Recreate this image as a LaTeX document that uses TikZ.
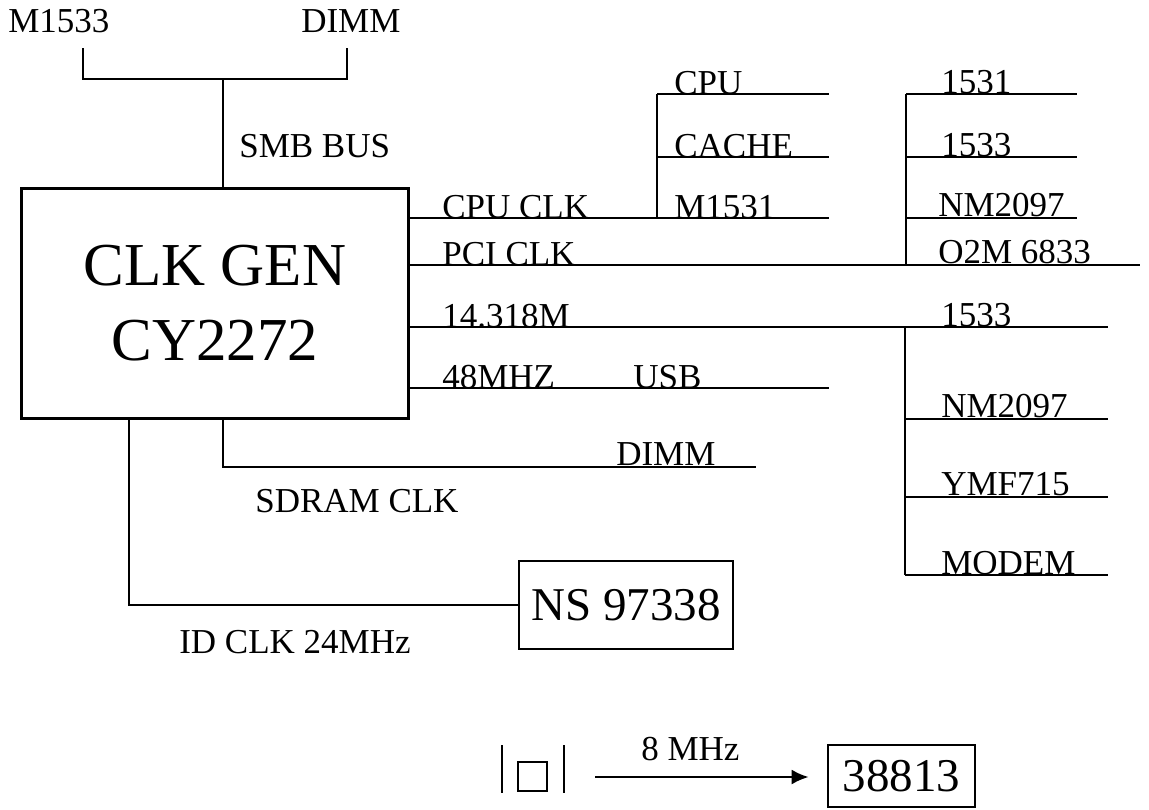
\documentclass[tikz,border=0pt]{standalone}
\usepackage{fontspec}
\setmainfont{Liberation Serif}
\usetikzlibrary{arrows.meta}
\begin{document}
\begin{tikzpicture}[x=0.5pt,y=-0.5pt,line width=1.3pt,
  lbl/.style={anchor=base west, inner sep=0pt, font=\fontsize{17.5}{20}\selectfont},
  chip/.style={draw, inner sep=0pt, align=center}]
\useasboundingbox (0,0) rectangle (1149,809);
% boxes
\node[chip, minimum width=193.5pt, minimum height=115pt, font=\fontsize{30.5}{37.5}\selectfont] (clk) at (215,303.5){CLK GEN\\CY2272};
\node[chip, minimum width=107pt, minimum height=44pt, font=\fontsize{23.5}{28}\selectfont] (ns) at (626,605){NS 97338};
\node[chip, minimum width=73.5pt, minimum height=31pt, font=\fontsize{23.5}{28}\selectfont] (ioc) at (901.5,776){38813};
\node[draw, inner sep=0pt, minimum size=14.5pt] (xtal) at (532.5,776.5){};
% smb bus
\coordinate (smb) at (223,79);
\draw[] (83,48) -- (83,79) -- (347,79) -- (347,48);
\draw[] (smb) -- (smb |- clk.north);
\node[lbl] (tm1533) at (7,32){M1533};
\node[lbl] (tdimm0) at (300,32){DIMM};
\node[lbl] (tsmb) at (238,157){SMB BUS};
% cpu clk
\coordinate (cpuE) at (829,218);
\draw[] (cpuE -| clk.east) -- (cpuE);
\draw[] (657,94) -- (657,218);
\draw[] (657,94) -- (829,94);
\draw[] (657,157) -- (829,157);
\node[lbl] (tcpuclk) at (441,218){CPU CLK};
\node[lbl] (tcpu) at (673,94){CPU};
\node[lbl] (tcache) at (673,157){CACHE};
\node[lbl] (tm1531) at (673,218){M1531};
% pci clk
\coordinate (pciE) at (1140,265);
\draw[] (pciE -| clk.east) -- (pciE);
\draw[] (906,94) -- (906,265);
\draw[] (906,94) -- (1077,94);
\draw[] (906,157) -- (1077,157);
\draw[] (906,218) -- (1077,218);
\node[lbl] (tpciclk) at (441,265){PCI CLK};
\node[lbl] (t1531) at (940,93){1531};
\node[lbl] (t1533a) at (940,156){1533};
\node[lbl] (tnm2097a) at (937,216){NM2097};
\node[lbl] (to2m) at (937,263){O2M 6833};
% 14.318M
\coordinate (oscE) at (1108,327);
\draw[] (oscE -| clk.east) -- (oscE);
\draw[] (905,327) -- (905,575);
\draw[] (905,419) -- (1108,419);
\draw[] (905,497) -- (1108,497);
\draw[] (905,575) -- (1108,575);
\node[lbl] (tosc) at (441,327){14.318M};
\node[lbl] (t1533b) at (940,326){1533};
\node[lbl] (tnm2097b) at (940,417){NM2097};
\node[lbl] (tymf) at (940,495){YMF715};
\node[lbl] (tmodem) at (940,574){MODEM};
% 48MHZ
\coordinate (usbE) at (829,388);
\draw[] (usbE -| clk.east) -- (usbE);
\node[lbl] (t48) at (441,388){48MHZ};
\node[lbl] (tusb) at (632,388){USB};
% sdram clk
\coordinate (sdram) at (223,467);
\draw[] (sdram |- clk.south) -- (sdram) -- (756,467);
\node[lbl] (tdimm1) at (615,465){DIMM};
\node[lbl] (tsdram) at (254,512){SDRAM CLK};
% id clk
\coordinate (idclk) at (129,605);
\draw[] (idclk |- clk.south) -- (idclk) -- (ns.west);
\node[lbl] (tid) at (178,653){ID CLK 24MHz};
% 8 MHz
\draw[] (502,745) -- (502,793);
\draw[] (564,745) -- (564,793);
\coordinate (f0) at (595,777);
\draw[-{Latex[length=8.5pt,width=7.5pt]}, shorten >=9pt] (f0) -- (f0 -| ioc.west);
\node[lbl] (t8m) at (640,760){8 MHz};
\end{tikzpicture}
\end{document}
